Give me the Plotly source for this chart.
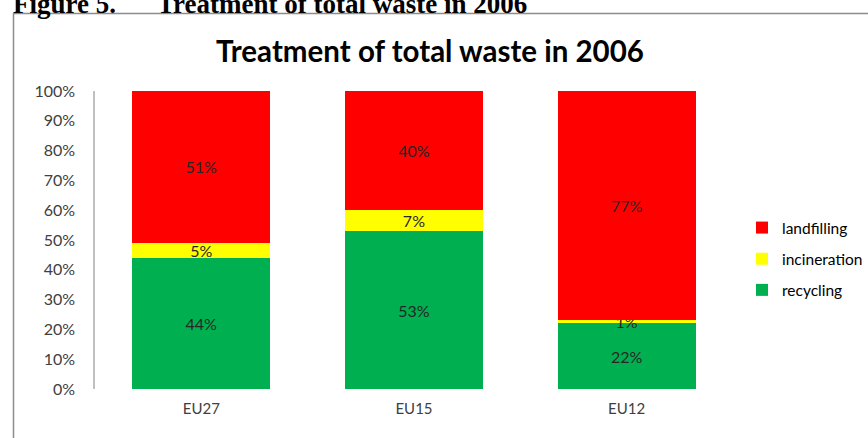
import plotly.graph_objects as go

# data
regions = ["EU27", "EU15", "EU12"]
recycling = [44, 53, 22]
incineration = [5, 7, 1]
landfilling = [51, 40, 77]
y_ticks = [0, 10, 20, 30, 40, 50, 60, 70, 80, 90, 100]
y_labels = ["{}%".format(v) for v in y_ticks]
grid_ticks = [10, 20, 30, 40, 50, 60, 70, 80, 90]

W, H = 868, 438
L, R, T, B = 95, 733, 91, 389   # plot area in pixels


def px_x(p):
    return (p - L) / (R - L)


def px_y(p):
    return (B - p) / (B - T)


body_font = "Lato, Calibri, 'Open Sans', sans-serif"

fig = go.Figure()
# (name, values, colour, legend rank: landfilling listed first)
series = [("recycling", recycling, "#00B050", 3),
          ("incineration", incineration, "#FFFF00", 2),
          ("landfilling", landfilling, "#FF0000", 1)]
for name, vals, col, rank in series:
    fig.add_trace(go.Bar(
        x=regions, y=vals, name=name, legendgroup=name, legendrank=rank,
        marker=dict(color=col, line=dict(width=0)),
        text=["{}%".format(v) for v in vals], texttemplate="%{text}",
        textposition="inside", insidetextanchor="middle",
        textangle=0, constraintext="none",
        textfont=dict(family=body_font, size=16, color="#262626"),
        hoverinfo="x+y+name",
    ))

fig.update_layout(
    width=W, height=H,
    barmode="stack", bargap=0.35,
    margin=dict(l=L, r=W - R, t=T, b=H - B, autoexpand=False),
    paper_bgcolor="white", plot_bgcolor="white",
    font=dict(family=body_font, color="#404040"),
    title=dict(text="<b>Treatment of total waste in 2006</b>",
               x=430 / W, xanchor="center", y=1 - 52 / H, yanchor="middle",
               font=dict(family=body_font, size=29.5, color="#000000")),
    legend=dict(x=px_x(742), xanchor="left", y=px_y(259), yanchor="middle",
                traceorder="grouped", tracegroupgap=8,
                font=dict(family=body_font, size=15.5, color="#000000"),
                bgcolor="rgba(0,0,0,0)"),
    xaxis=dict(showgrid=False, showline=False, ticks="",
               ticklabelstandoff=9,
               tickfont=dict(size=15, color="#404040")),
    yaxis=dict(range=[0, 100], tickvals=y_ticks, ticktext=y_labels,
               showgrid=False, zeroline=False, showline=True,
               linecolor="#BFBFBF", linewidth=1.5, ticks="",
               ticklabelstandoff=15,
               tickfont=dict(size=16, color="#404040")),
    yaxis2=dict(range=[0, 100], overlaying="y", tickvals=grid_ticks,
                showticklabels=False, showgrid=True, gridcolor="#868686",
                gridwidth=1, zeroline=False, showline=False, ticks=""),
)

# outer chart frame (top and left edges visible)
fig.add_shape(type="rect", xref="paper", yref="paper",
              x0=px_x(13.5), x1=px_x(900), y0=px_y(500), y1=px_y(13.5),
              line=dict(color="#8C8C8C", width=1.5), fillcolor="rgba(0,0,0,0)",
              layer="below")

# document caption, clipped at the top edge
caption_font = dict(family="'Liberation Serif', 'Times New Roman', serif",
                    size=27, color="#000000")
fig.add_annotation(text="<b>Figure 5.</b>", xref="paper", yref="paper",
                   x=px_x(11), xanchor="left", y=px_y(21), yanchor="bottom",
                   showarrow=False, font=caption_font)
fig.add_annotation(text="<b>Treatment of total waste in 2006</b>", xref="paper", yref="paper",
                   x=px_x(155), xanchor="left", y=px_y(21), yanchor="bottom",
                   showarrow=False, font=caption_font)

fig.write_html("out.html", config={"displayModeBar": False},
               post_script="document.body.style.margin='0';")
